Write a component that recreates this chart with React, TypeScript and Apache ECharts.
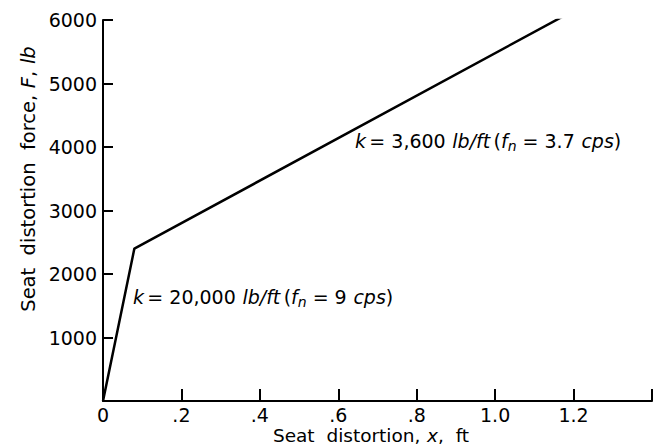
import React, { useEffect, useRef } from 'react';
import * as echarts from 'echarts';

const distortion = [0, 0.08, 1.18];
const force = [0, 2400, 6080];
const xTicks = [0, 0.2, 0.4, 0.6, 0.8, 1.0, 1.2, 1.4];
const xTickLabels = ['0', '.2', '.4', '.6', '.8', '1.0', '1.2', ''];
const yTicks = [0, 1000, 2000, 3000, 4000, 5000, 6000];
const yTickLabels = ['', '1000', '2000', '3000', '4000', '5000', '6000'];

const FONT = 'DejaVu Sans';

const rich = {
  n: { fontFamily: FONT, fontSize: 19, color: '#000' },
  i: { fontFamily: FONT, fontSize: 19, fontStyle: 'italic', color: '#000' },
  sub: { fontFamily: FONT, fontSize: 14, fontStyle: 'italic', color: '#000', padding: [10, 0, 0, 0] },
  ln: { fontFamily: FONT, fontSize: 18.5, color: '#000' },
  li: { fontFamily: FONT, fontSize: 18.5, fontStyle: 'italic', color: '#000' },
  yn: { fontFamily: FONT, fontSize: 19.5, color: '#000' },
  yi: { fontFamily: FONT, fontSize: 19.5, fontStyle: 'italic', color: '#000' },
};

function labelFor(ticks: number[], labels: string[], v: number) {
  const i = ticks.findIndex((t) => Math.abs(t - v) < 1e-6);
  return i >= 0 ? labels[i] : '';
}

export default function App() {
  const ref = useRef<HTMLDivElement>(null);
  useEffect(() => {
    if (!ref.current) return;
    const chart = echarts.init(ref.current, undefined, { renderer: 'svg' });
    chart.setOption({
      animation: false,
      backgroundColor: '#fff',
      grid: { left: 103, right: 8, top: 20, bottom: 43, containLabel: false },
      xAxis: {
        type: 'value',
        min: 0,
        max: 1.4,
        interval: 0.2,
        splitLine: { show: false },
        axisLine: { onZero: false, lineStyle: { color: '#000', width: 2 } },
        axisTick: { inside: true, length: 12, lineStyle: { color: '#000', width: 2 } },
        axisLabel: {
          margin: 4,
          color: '#000',
          fontFamily: FONT,
          fontSize: 19,
          lineHeight: 19,
          showMaxLabel: true,
          formatter: (v: number) => labelFor(xTicks, xTickLabels, v),
        },
      },
      yAxis: {
        type: 'value',
        min: 0,
        max: 6000,
        interval: 1000,
        splitLine: { show: false },
        axisLine: { onZero: false, lineStyle: { color: '#000', width: 2 } },
        axisTick: { inside: true, length: 10, lineStyle: { color: '#000', width: 2 } },
        axisLabel: {
          margin: 6,
          color: '#000',
          fontFamily: FONT,
          fontSize: 19,
          formatter: (v: number) => labelFor(yTicks, yTickLabels, v),
        },
      },
      series: [
        {
          type: 'line',
          data: distortion.map((x, i) => [x, force[i]]),
          showSymbol: false,
          lineStyle: { color: '#000', width: 2.5 },
        },
      ],
      graphic: [
        {
          type: 'text',
          x: 133,
          y: 297,
          style: {
            text: '{i|k} {n|= 20,000}  {i|lb/ft} {n|(}{i|f}{sub|n}{n| = 9}  {i|cps}{n|)}',
            rich,
            textAlign: 'left',
            textVerticalAlign: 'middle',
          },
        },
        {
          type: 'text',
          x: 355,
          y: 141,
          style: {
            text: '{i|k} {n|= 3,600}  {i|lb/ft} {n|(}{i|f}{sub|n}{n| = 3.7}  {i|cps}{n|)}',
            rich,
            textAlign: 'left',
            textVerticalAlign: 'middle',
          },
        },
        {
          type: 'text',
          x: 371,
          y: 435,
          style: {
            text: '{ln|Seat  distortion,}  {li|x}{ln|,  ft}',
            rich,
            textAlign: 'center',
            textVerticalAlign: 'middle',
          },
        },
        {
          type: 'text',
          x: 28,
          y: 179,
          rotation: Math.PI / 2,
          style: {
            text: '{yn|Seat  distortion  force,}  {yi|F}{yn|,}  {yi|lb}',
            rich,
            textAlign: 'center',
            textVerticalAlign: 'middle',
          },
        },
      ],
    });
    return () => chart.dispose();
  }, []);
  return <div ref={ref} style={{ width: 660, height: 444, position: 'absolute', left: 0, top: 0 }} />;
}
